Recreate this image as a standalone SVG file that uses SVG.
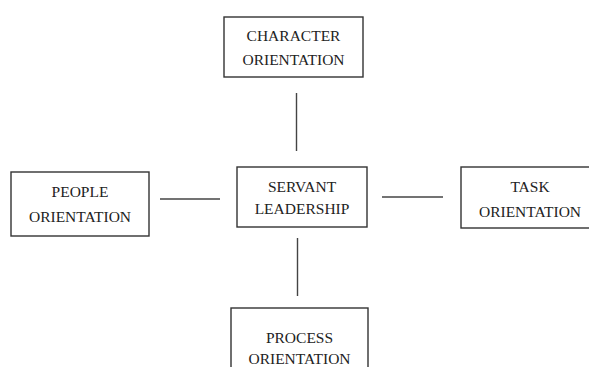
<svg xmlns="http://www.w3.org/2000/svg" width="589" height="367" viewBox="0 0 589 367">
<style>
.box{fill:#fff;stroke:#333;stroke-width:1.4}
.t{font-family:"Liberation Serif","Times New Roman",serif;font-size:15.5px;fill:#222;text-anchor:middle}
.c{stroke:#444;stroke-width:1.4;fill:none}
</style>
<rect width="589" height="367" fill="#fff"/>
<g id="connectors">
<line class="c" x1="296.5" y1="93" x2="296.5" y2="151"/>
<line class="c" x1="297.5" y1="238" x2="297.5" y2="296"/>
<line class="c" x1="160" y1="199" x2="220" y2="199"/>
<line class="c" x1="382" y1="197" x2="443" y2="197"/>
</g>
<g id="character">
<rect class="box" x="224" y="17" width="139" height="60"/>
<text class="t" x="293.5" y="41">CHARACTER</text>
<text class="t" x="293.5" y="65">ORIENTATION</text>
</g>
<g id="people">
<rect class="box" x="11" y="172" width="138" height="64"/>
<text class="t" x="80" y="197">PEOPLE</text>
<text class="t" x="80" y="222">ORIENTATION</text>
</g>
<g id="servant">
<rect class="box" x="237" y="167" width="130" height="60"/>
<text class="t" x="302" y="192">SERVANT</text>
<text class="t" x="302" y="214">LEADERSHIP</text>
</g>
<g id="task">
<rect class="box" x="461" y="167" width="140" height="61"/>
<text class="t" x="530" y="192">TASK</text>
<text class="t" x="530" y="217">ORIENTATION</text>
</g>
<g id="process">
<rect class="box" x="231" y="308" width="137" height="70"/>
<text class="t" x="299.5" y="343">PROCESS</text>
<text class="t" x="299.5" y="364">ORIENTATION</text>
</g>
</svg>
